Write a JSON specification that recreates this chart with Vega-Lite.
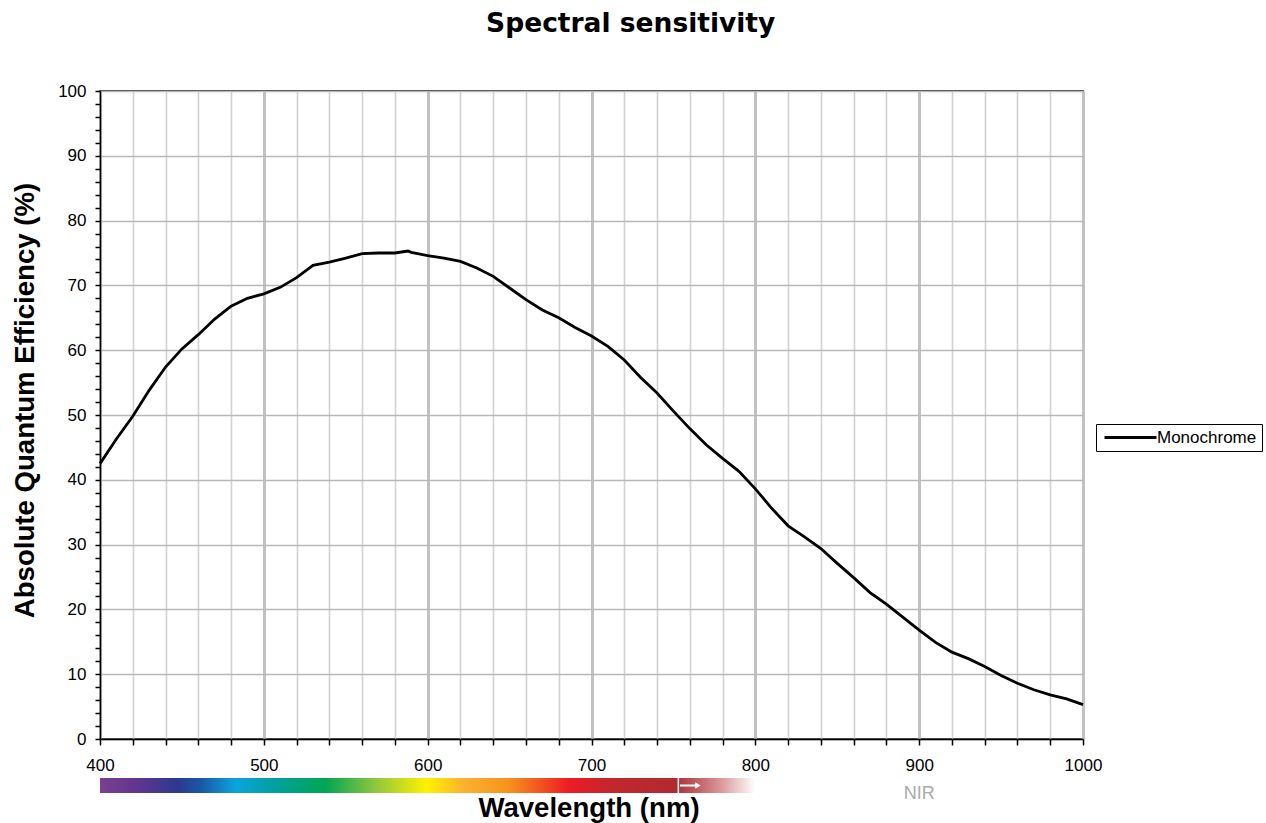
{
  "$schema": "https://vega.github.io/schema/vega-lite/v6.json",
  "background": "white",
  "padding": {"left": 10, "top": 10, "right": 4, "bottom": 2},
  "title": {"text": "Spectral sensitivity", "font": "DejaVu Sans", "fontSize": 26.5, "fontWeight": "bold", "color": "#000", "anchor": "middle", "offset": 44, "dx": -6},
  "config": {
    "font": "Liberation Sans",
    "view": {"stroke": "#000", "strokeWidth": 1.5},
    "axis": {"labelColor": "#000", "titleColor": "#000", "domainColor": "#000", "tickColor": "#000", "labelFont": "Liberation Sans", "titleFont": "Liberation Sans"}
  },
  "spacing": 3,
  "vconcat": [
    {
      "width": 983,
      "height": 648,
      "data": {"values": [
        {"wavelength": 400, "qe": 42.5}, {"wavelength": 410, "qe": 46.3}, {"wavelength": 420, "qe": 49.8},
        {"wavelength": 430, "qe": 53.8}, {"wavelength": 440, "qe": 57.4}, {"wavelength": 450, "qe": 60.2},
        {"wavelength": 460, "qe": 62.4}, {"wavelength": 470, "qe": 64.8}, {"wavelength": 480, "qe": 66.8},
        {"wavelength": 490, "qe": 68.0}, {"wavelength": 500, "qe": 68.7}, {"wavelength": 510, "qe": 69.7},
        {"wavelength": 520, "qe": 71.2}, {"wavelength": 530, "qe": 73.1}, {"wavelength": 540, "qe": 73.6},
        {"wavelength": 550, "qe": 74.2}, {"wavelength": 560, "qe": 74.9}, {"wavelength": 570, "qe": 75.0},
        {"wavelength": 580, "qe": 75.0}, {"wavelength": 588, "qe": 75.3}, {"wavelength": 590, "qe": 75.1},
        {"wavelength": 600, "qe": 74.6}, {"wavelength": 610, "qe": 74.2}, {"wavelength": 620, "qe": 73.7},
        {"wavelength": 630, "qe": 72.7}, {"wavelength": 640, "qe": 71.4}, {"wavelength": 650, "qe": 69.6},
        {"wavelength": 660, "qe": 67.8}, {"wavelength": 670, "qe": 66.2}, {"wavelength": 680, "qe": 65.0},
        {"wavelength": 690, "qe": 63.5}, {"wavelength": 700, "qe": 62.2}, {"wavelength": 710, "qe": 60.6},
        {"wavelength": 720, "qe": 58.5}, {"wavelength": 730, "qe": 55.8}, {"wavelength": 740, "qe": 53.4},
        {"wavelength": 750, "qe": 50.6}, {"wavelength": 760, "qe": 47.9}, {"wavelength": 770, "qe": 45.4},
        {"wavelength": 780, "qe": 43.3}, {"wavelength": 790, "qe": 41.3}, {"wavelength": 800, "qe": 38.6},
        {"wavelength": 810, "qe": 35.6}, {"wavelength": 820, "qe": 32.9}, {"wavelength": 830, "qe": 31.2},
        {"wavelength": 840, "qe": 29.4}, {"wavelength": 850, "qe": 27.1}, {"wavelength": 860, "qe": 24.9},
        {"wavelength": 870, "qe": 22.6}, {"wavelength": 880, "qe": 20.8}, {"wavelength": 890, "qe": 18.8},
        {"wavelength": 900, "qe": 16.8}, {"wavelength": 910, "qe": 14.9}, {"wavelength": 920, "qe": 13.4},
        {"wavelength": 930, "qe": 12.4}, {"wavelength": 940, "qe": 11.2}, {"wavelength": 950, "qe": 9.8},
        {"wavelength": 960, "qe": 8.6}, {"wavelength": 970, "qe": 7.6}, {"wavelength": 980, "qe": 6.8},
        {"wavelength": 990, "qe": 6.2}, {"wavelength": 1000, "qe": 5.3}
      ]},
      "mark": {"type": "line", "strokeWidth": 2.8},
      "encoding": {
        "x": {
          "field": "wavelength", "type": "quantitative",
          "scale": {"domain": [400, 1000], "nice": false, "zero": false},
          "axis": {
            "title": null, "format": "d",
            "values": [400,420,440,460,480,500,520,540,560,580,600,620,640,660,680,700,720,740,760,780,800,820,840,860,880,900,920,940,960,980,1000],
            "labelExpr": "datum.value % 100 === 0 ? datum.label : ''",
            "labelOverlap": false, "labelFlush": false,
            "labelFontSize": 17, "labelPadding": 12,
            "tickSize": 6, "tickWidth": 1.5, "domainWidth": 1.5,
            "grid": true,
            "gridColor": {"condition": {"test": "datum.value % 100 === 0", "value": "#c2c2c2"}, "value": "#d2d2d2"},
            "gridWidth": {"condition": {"test": "datum.value % 100 === 0", "value": 3}, "value": 1.6}
          }
        },
        "y": {
          "field": "qe", "type": "quantitative",
          "scale": {"domain": [0, 100], "nice": false},
          "axis": {
            "title": "Absolute Quantum Efficiency (%)",
            "titleFontSize": 27.6, "titleFontWeight": "bold", "titlePadding": 18, "titleY": 309,
            "values": [0,2,4,6,8,10,12,14,16,18,20,22,24,26,28,30,32,34,36,38,40,42,44,46,48,50,52,54,56,58,60,62,64,66,68,70,72,74,76,78,80,82,84,86,88,90,92,94,96,98,100],
            "labelExpr": "datum.value % 10 === 0 ? datum.label : ''",
            "labelOverlap": false, "labelFlush": false,
            "labelFontSize": 17, "labelPadding": 9,
            "tickSize": 5, "tickWidth": 1.5, "domainWidth": 1.5,
            "grid": true,
            "gridColor": "#b8b8b8", "gridWidth": 1.6,
            "gridOpacity": {"condition": {"test": "datum.value % 10 === 0", "value": 1}, "value": 0}
          }
        },
        "color": {
          "datum": "Monochrome",
          "scale": {"range": ["#000000"]},
          "legend": {
            "title": null, "orient": "none", "legendX": 996, "legendY": 333,
            "strokeColor": "#000", "fillColor": "#fff", "padding": 5,
            "symbolType": "M-1.25,0H11.75", "symbolSize": 64, "symbolStrokeWidth": 2.8,
            "labelOffset": 39, "labelFontSize": 17, "labelFont": "Liberation Sans", "labelColor": "#000"
          }
        }
      }
    },
    {
      "width": 983,
      "height": 15,
      "view": {"stroke": null},
      "layer": [
        {
          "data": {"values": [{"start": 400, "end": 753}]},
          "mark": {"type": "rect", "color": {"gradient": "linear", "x1": 0, "x2": 1, "y1": 0, "y2": 0, "stops": [
            {"offset": 0.0, "color": "#7b3f8f"},
            {"offset": 0.07, "color": "#5e3490"},
            {"offset": 0.135, "color": "#2a3a8f"},
            {"offset": 0.175, "color": "#1a58a6"},
            {"offset": 0.235, "color": "#0aa5de"},
            {"offset": 0.30, "color": "#00a0a0"},
            {"offset": 0.39, "color": "#00a651"},
            {"offset": 0.475, "color": "#8dc63f"},
            {"offset": 0.565, "color": "#fff200"},
            {"offset": 0.63, "color": "#fbb030"},
            {"offset": 0.705, "color": "#f7941d"},
            {"offset": 0.81, "color": "#ed1c24"},
            {"offset": 0.885, "color": "#c4262e"},
            {"offset": 1.0, "color": "#b02a30"}
          ]}},
          "encoding": {
            "x": {"field": "start", "type": "quantitative", "scale": {"domain": [400, 1000], "nice": false, "zero": false},
              "axis": {"title": "Wavelength (nm)", "titleFontSize": 27.6, "titleFontWeight": "bold", "titlePadding": 1, "titleX": 488.5, "labels": false, "ticks": false, "domain": false, "grid": false}},
            "x2": {"field": "end"},
            "y": {"datum": 0, "type": "quantitative", "scale": {"domain": [0, 1], "nice": false}, "axis": null},
            "y2": {"datum": 1}
          }
        },
        {
          "data": {"values": [{"start": 753, "end": 800}]},
          "mark": {"type": "rect", "color": {"gradient": "linear", "x1": 0, "x2": 1, "y1": 0, "y2": 0, "stops": [
            {"offset": 0.0, "color": "#b0333a"},
            {"offset": 0.5, "color": "#d58d90"},
            {"offset": 1.0, "color": "#ffffff"}
          ]}},
          "encoding": {
            "x": {"field": "start", "type": "quantitative"},
            "x2": {"field": "end"},
            "y": {"datum": 0, "type": "quantitative"},
            "y2": {"datum": 1}
          }
        },
        {
          "data": {"values": [{"pos": 753}]},
          "mark": {"type": "rule", "color": "#ffffff", "strokeWidth": 1.5},
          "encoding": {
            "x": {"field": "pos", "type": "quantitative"},
            "y": {"datum": 0, "type": "quantitative"},
            "y2": {"datum": 1}
          }
        },
        {
          "data": {"values": [{"from": 754, "to": 764, "level": 0.5}]},
          "mark": {"type": "rule", "color": "#ffffff", "strokeWidth": 2},
          "encoding": {
            "x": {"field": "from", "type": "quantitative"},
            "x2": {"field": "to"},
            "y": {"field": "level", "type": "quantitative"}
          }
        },
        {
          "data": {"values": [{"tip": 765, "level": 0.5}]},
          "mark": {"type": "point", "shape": "triangle-right", "filled": true, "color": "#ffffff", "size": 40, "opacity": 1},
          "encoding": {
            "x": {"field": "tip", "type": "quantitative"},
            "y": {"field": "level", "type": "quantitative"}
          }
        },
        {
          "data": {"values": [{"pos": 900, "level": 0, "label": "NIR"}]},
          "mark": {"type": "text", "color": "#aaaaaa", "fontSize": 18, "font": "Liberation Sans", "baseline": "middle", "align": "center", "dy": 1},
          "encoding": {
            "x": {"field": "pos", "type": "quantitative"},
            "y": {"field": "level", "type": "quantitative"},
            "text": {"field": "label"}
          }
        }
      ]
    }
  ]
}
